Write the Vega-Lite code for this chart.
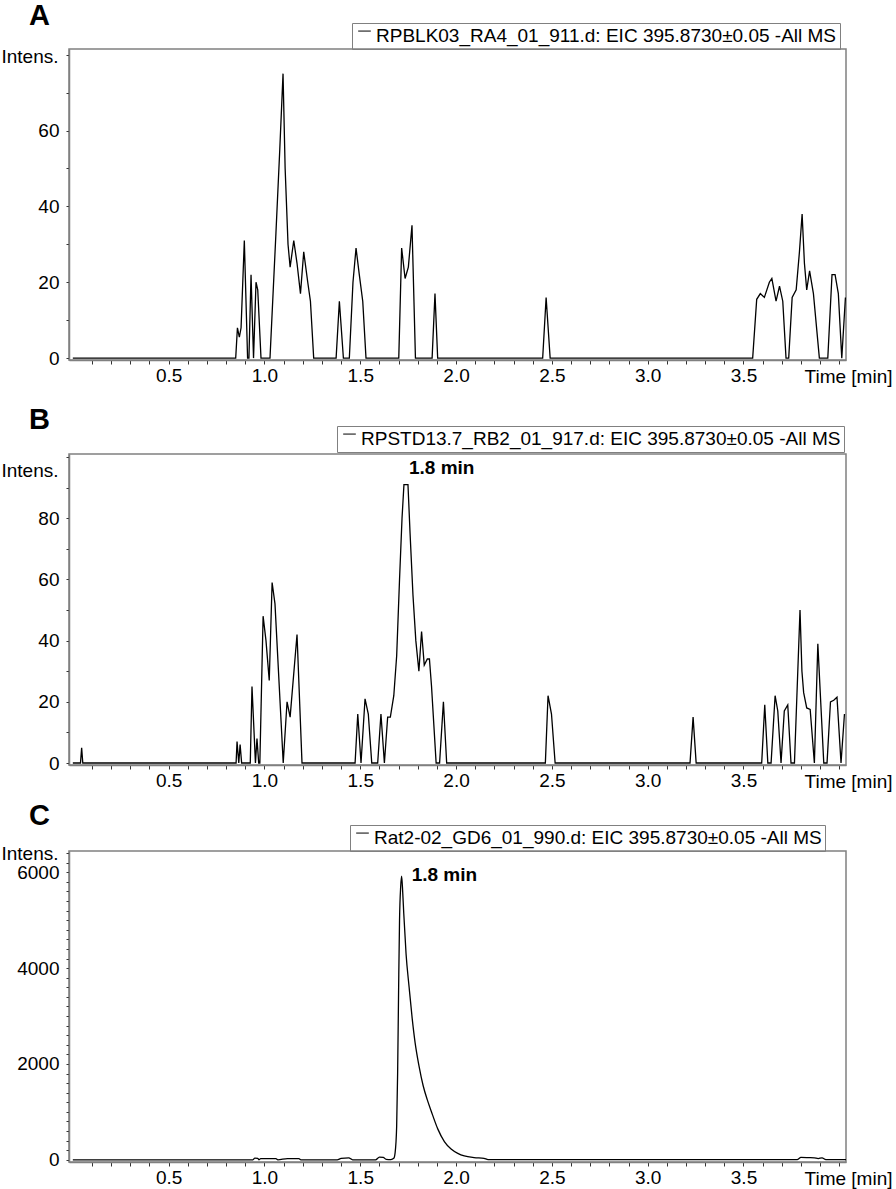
{
  "$schema": "https://vega.github.io/schema/vega-lite/v6.json",
  "padding": {"left": 0, "top": 0, "right": 0, "bottom": 0},
  "config": {
    "font": "Liberation Sans",
    "view": {"stroke": "#808080", "strokeWidth": 1.5},
    "axis": {"domainColor": "#808080", "domainWidth": 1.5, "tickColor": "#333333", "tickWidth": 1, "labelColor": "black", "labelFontSize": 19, "labelFont": "Liberation Sans", "grid": false, "labelOverlap": false, "labelFlush": false, "labelBound": false, "titleFont": "Liberation Sans", "titleFontWeight": "normal", "titleFontSize": 19, "titleColor": "black"},
    "legend": {"labelFont": "Liberation Sans", "labelFontSize": 19, "labelColor": "black", "labelLimit": 0},
    "title": {"font": "Liberation Sans", "fontSize": 29, "fontWeight": "bold", "color": "black"}
  },
  "datasets": {
    "a": [
      {"t":0,"v":0},{"t":0.85,"v":0},{"t":0.859,"v":8},{"t":0.869,"v":5.5},{"t":0.878,"v":8},{"t":0.895,"v":31},{"t":0.912,"v":0},{"t":0.919,"v":0},{"t":0.93,"v":22},{"t":0.943,"v":0},{"t":0.956,"v":20},{"t":0.965,"v":18},{"t":0.982,"v":0},{"t":1.029,"v":0},{"t":1.06,"v":33},{"t":1.08,"v":55},{"t":1.097,"v":75},{"t":1.108,"v":50},{"t":1.123,"v":30},{"t":1.134,"v":24},{"t":1.153,"v":31},{"t":1.17,"v":25},{"t":1.188,"v":17},{"t":1.205,"v":28},{"t":1.226,"v":20},{"t":1.24,"v":15},{"t":1.257,"v":0},{"t":1.374,"v":0},{"t":1.391,"v":15},{"t":1.412,"v":0},{"t":1.443,"v":0},{"t":1.462,"v":20},{"t":1.478,"v":29},{"t":1.495,"v":22},{"t":1.513,"v":15},{"t":1.53,"v":0},{"t":1.701,"v":0},{"t":1.716,"v":29},{"t":1.734,"v":21},{"t":1.751,"v":24},{"t":1.77,"v":35},{"t":1.788,"v":0},{"t":1.875,"v":0},{"t":1.89,"v":17},{"t":1.904,"v":0},{"t":2.452,"v":0},{"t":2.47,"v":16},{"t":2.491,"v":0},{"t":3.548,"v":0},{"t":3.569,"v":15.5},{"t":3.588,"v":17},{"t":3.609,"v":16},{"t":3.635,"v":20},{"t":3.648,"v":21},{"t":3.67,"v":15},{"t":3.688,"v":19},{"t":3.705,"v":15},{"t":3.722,"v":0},{"t":3.736,"v":0},{"t":3.754,"v":16},{"t":3.775,"v":18},{"t":3.792,"v":28},{"t":3.806,"v":38},{"t":3.818,"v":25},{"t":3.83,"v":18},{"t":3.845,"v":23},{"t":3.865,"v":17},{"t":3.896,"v":0},{"t":3.94,"v":0},{"t":3.962,"v":22},{"t":3.978,"v":22},{"t":3.995,"v":17},{"t":4.013,"v":0},{"t":4.032,"v":16}
    ],
    "b": [
      {"t":0,"v":0},{"t":0.04,"v":0},{"t":0.046,"v":5},{"t":0.052,"v":0},{"t":0.852,"v":0},{"t":0.857,"v":7},{"t":0.866,"v":0},{"t":0.873,"v":6},{"t":0.881,"v":0},{"t":0.926,"v":0},{"t":0.935,"v":25},{"t":0.953,"v":0},{"t":0.961,"v":8},{"t":0.97,"v":0},{"t":0.976,"v":0},{"t":0.993,"v":48},{"t":1.008,"v":40},{"t":1.025,"v":27},{"t":1.04,"v":59},{"t":1.055,"v":52},{"t":1.098,"v":0},{"t":1.118,"v":20},{"t":1.134,"v":15},{"t":1.17,"v":42},{"t":1.196,"v":0},{"t":1.473,"v":0},{"t":1.487,"v":16},{"t":1.504,"v":0},{"t":1.525,"v":21},{"t":1.542,"v":16},{"t":1.56,"v":0},{"t":1.591,"v":0},{"t":1.608,"v":16},{"t":1.626,"v":0},{"t":1.643,"v":15},{"t":1.657,"v":15},{"t":1.675,"v":22},{"t":1.69,"v":35},{"t":1.705,"v":60},{"t":1.718,"v":80},{"t":1.728,"v":91},{"t":1.749,"v":91},{"t":1.76,"v":75},{"t":1.775,"v":55},{"t":1.79,"v":40},{"t":1.806,"v":30},{"t":1.82,"v":43},{"t":1.834,"v":32},{"t":1.85,"v":34},{"t":1.861,"v":34},{"t":1.872,"v":25},{"t":1.896,"v":0},{"t":1.914,"v":0},{"t":1.934,"v":20},{"t":1.951,"v":0},{"t":2.466,"v":0},{"t":2.48,"v":22},{"t":2.498,"v":16},{"t":2.517,"v":0},{"t":3.221,"v":0},{"t":3.237,"v":15},{"t":3.253,"v":0},{"t":3.595,"v":0},{"t":3.611,"v":19},{"t":3.627,"v":0},{"t":3.644,"v":0},{"t":3.665,"v":22},{"t":3.679,"v":17},{"t":3.696,"v":0},{"t":3.713,"v":17},{"t":3.731,"v":19},{"t":3.748,"v":0},{"t":3.766,"v":0},{"t":3.795,"v":50},{"t":3.805,"v":30},{"t":3.814,"v":23},{"t":3.83,"v":18},{"t":3.848,"v":17.5},{"t":3.87,"v":0},{"t":3.888,"v":39},{"t":3.903,"v":20},{"t":3.919,"v":0},{"t":3.936,"v":0},{"t":3.954,"v":20},{"t":3.971,"v":20.5},{"t":3.988,"v":21.5},{"t":4.009,"v":0},{"t":4.027,"v":16}
    ],
    "c": [
      {"t":0,"v":0},{"t":0.94,"v":0},{"t":0.95,"v":35},{"t":0.965,"v":30},{"t":0.972,"v":0},{"t":0.98,"v":25},{"t":1.06,"v":25},{"t":1.07,"v":0},{"t":1.12,"v":25},{"t":1.18,"v":25},{"t":1.19,"v":0},{"t":1.38,"v":0},{"t":1.4,"v":30},{"t":1.44,"v":40},{"t":1.46,"v":0},{"t":1.58,"v":0},{"t":1.6,"v":55},{"t":1.62,"v":50},{"t":1.635,"v":10},{"t":1.66,"v":5},{"t":1.675,"v":30},{"t":1.682,"v":150},{"t":1.69,"v":700},{"t":1.695,"v":1800},{"t":1.7,"v":3500},{"t":1.705,"v":5000},{"t":1.711,"v":5700},{"t":1.716,"v":5917},{"t":1.722,"v":5550},{"t":1.727,"v":5146},{"t":1.739,"v":4300},{"t":1.755,"v":3600},{"t":1.771,"v":2950},{"t":1.786,"v":2450},{"t":1.807,"v":1950},{"t":1.828,"v":1550},{"t":1.85,"v":1250},{"t":1.87,"v":1020},{"t":1.905,"v":640},{"t":1.939,"v":380},{"t":1.974,"v":225},{"t":2.009,"v":135},{"t":2.043,"v":80},{"t":2.094,"v":45},{"t":2.146,"v":30},{"t":2.167,"v":5},{"t":3.78,"v":5},{"t":3.8,"v":50},{"t":3.84,"v":45},{"t":3.87,"v":40},{"t":3.89,"v":25},{"t":3.91,"v":40},{"t":3.93,"v":5},{"t":4.035,"v":5}
    ],
    "annB": [{"t":1.749,"v":91,"label":"1.8 min"}],
    "annC": [{"t":1.716,"v":5917,"label":"1.8 min"}]
  },
  "bounds": "flush",
  "spacing": 94,
  "resolve": {"scale": {"x": "independent", "y": "independent", "stroke": "independent"}, "legend": {"stroke": "independent"}},
  "vconcat": [
    {
      "width": 777, "height": 311,
      "title": {"text": "A", "anchor": "start", "frame": "group", "dx": -40, "offset": 0, "dy": 31, "baseline": "alphabetic"},
      "encoding": {
        "x": {"field": "t", "type": "quantitative", "scale": {"domain": [-0.02, 4.035], "nice": false, "zero": false},
          "axis": {"values": [0.1,0.2,0.3,0.4,0.5,0.6,0.7,0.8,0.9,1.0,1.1,1.2,1.3,1.4,1.5,1.6,1.7,1.8,1.9,2.0,2.1,2.2,2.3,2.4,2.5,2.6,2.7,2.8,2.9,3.0,3.1,3.2,3.3,3.4,3.5,3.6,3.7,3.8,3.9,4.0],
            "labelExpr": "abs(datum.value*2 - round(datum.value*2)) < 0.001 && datum.value < 3.9 ? format(datum.value, '.1f') : ''",
            "tickSize": 4, "labelPadding": 2, "title": "Time [min]", "titleX": 779, "titleY": 16, "titleAlign": "center", "titleBaseline": "middle", "titleAnchor": null}},
        "y": {"field": "v", "type": "quantitative", "scale": {"domain": [-0.5, 81.5], "nice": false, "zero": false},
          "axis": {"values": [0,10,20,30,40,50,60,70,80], "labelExpr": "datum.value % 20 === 0 && datum.value < 80 ? datum.label : ''",
            "tickSize": 3, "labelPadding": 7, "title": "Intens.", "titleAngle": 0, "titleAlign": "right", "titleBaseline": "middle", "titleX": -11, "titleY": 7}}
      },
      "layer": [
        {"data": {"name": "a"}, "mark": {"type": "line", "strokeWidth": 1.3, "clip": true},
         "encoding": {"stroke": {"datum": "RPBLK03_RA4_01_911.d: EIC 395.8730±0.05 -All MS", "type": "nominal", "scale": {"range": ["black"]},
           "legend": {"orient": "none", "legendX": 283, "legendY": -26, "title": null, "symbolType": "M-1,-0.7L1,-0.7", "symbolSize": 160, "symbolStrokeWidth": 1, "symbolFillColor": "transparent", "strokeColor": "#808080", "padding": 3, "labelOffset": 2}}}}
      ]
    },
    {
      "bounds": "flush",
      "spacing": 86,
      "resolve": {"scale": {"x": "independent", "y": "independent", "stroke": "independent"}, "legend": {"stroke": "independent"}},
      "vconcat": [
        {
          "width": 777, "height": 311,
          "title": {"text": "B", "anchor": "start", "frame": "group", "dx": -40, "offset": 0, "dy": 32, "baseline": "alphabetic"},
          "encoding": {
            "x": {"field": "t", "type": "quantitative", "scale": {"domain": [-0.02, 4.035], "nice": false, "zero": false},
              "axis": {"values": [0.1,0.2,0.3,0.4,0.5,0.6,0.7,0.8,0.9,1.0,1.1,1.2,1.3,1.4,1.5,1.6,1.7,1.8,1.9,2.0,2.1,2.2,2.3,2.4,2.5,2.6,2.7,2.8,2.9,3.0,3.1,3.2,3.3,3.4,3.5,3.6,3.7,3.8,3.9,4.0],
                "labelExpr": "abs(datum.value*2 - round(datum.value*2)) < 0.001 && datum.value < 3.9 ? format(datum.value, '.1f') : ''",
                "tickSize": 4, "labelPadding": 2, "title": "Time [min]", "titleX": 779, "titleY": 16, "titleAlign": "center", "titleBaseline": "middle", "titleAnchor": null}},
            "y": {"field": "v", "type": "quantitative", "scale": {"domain": [-0.65, 101], "nice": false, "zero": false},
              "axis": {"values": [0,10,20,30,40,50,60,70,80,90,100], "labelExpr": "datum.value % 20 === 0 && datum.value < 90 ? datum.label : ''",
                "tickSize": 3, "labelPadding": 7, "title": "Intens.", "titleAngle": 0, "titleAlign": "right", "titleBaseline": "middle", "titleX": -11, "titleY": 16}}
          },
          "layer": [
            {"data": {"name": "b"}, "mark": {"type": "line", "strokeWidth": 1.3, "clip": true},
             "encoding": {"stroke": {"datum": "RPSTD13.7_RB2_01_917.d: EIC 395.8730±0.05 -All MS", "type": "nominal", "scale": {"range": ["black"]},
               "legend": {"orient": "none", "legendX": 268, "legendY": -28, "title": null, "symbolType": "M-1,-0.7L1,-0.7", "symbolSize": 160, "symbolStrokeWidth": 1, "symbolFillColor": "transparent", "strokeColor": "#808080", "padding": 3, "labelOffset": 2}}}},
            {"data": {"name": "annB"}, "mark": {"type": "text", "align": "left", "baseline": "middle", "dx": 1, "dy": -17, "fontSize": 19, "fontWeight": "bold", "color": "black"},
             "encoding": {"text": {"field": "label"}}}
          ]
        },
        {
          "width": 777, "height": 311,
          "title": {"text": "C", "anchor": "start", "frame": "group", "dx": -40, "offset": 0, "dy": 29, "baseline": "alphabetic"},
          "encoding": {
            "x": {"field": "t", "type": "quantitative", "scale": {"domain": [-0.02, 4.035], "nice": false, "zero": false},
              "axis": {"values": [0.1,0.2,0.3,0.4,0.5,0.6,0.7,0.8,0.9,1.0,1.1,1.2,1.3,1.4,1.5,1.6,1.7,1.8,1.9,2.0,2.1,2.2,2.3,2.4,2.5,2.6,2.7,2.8,2.9,3.0,3.1,3.2,3.3,3.4,3.5,3.6,3.7,3.8,3.9,4.0],
                "labelExpr": "abs(datum.value*2 - round(datum.value*2)) < 0.001 && datum.value < 3.9 ? format(datum.value, '.1f') : ''",
                "tickSize": 4, "labelPadding": 2, "title": "Time [min]", "titleX": 779, "titleY": 16, "titleAlign": "center", "titleBaseline": "middle", "titleAnchor": null}},
            "y": {"field": "v", "type": "quantitative", "scale": {"domain": [-46, 6444], "nice": false, "zero": false},
              "axis": {"values": [0,200,400,600,800,1000,1200,1400,1600,1800,2000,2200,2400,2600,2800,3000,3200,3400,3600,3800,4000,4200,4400,4600,4800,5000,5200,5400,5600,5800,6000,6200,6400],
                "labelExpr": "datum.value % 2000 === 0 ? format(datum.value, 'd') : ''",
                "tickSize": 3, "labelPadding": 7, "title": "Intens.", "titleAngle": 0, "titleAlign": "right", "titleBaseline": "middle", "titleX": -11, "titleY": 2}}
          },
          "layer": [
            {"data": {"name": "c"}, "mark": {"type": "line", "strokeWidth": 1.3, "clip": true, "interpolate": "monotone"},
             "encoding": {"stroke": {"datum": "Rat2-02_GD6_01_990.d: EIC 395.8730±0.05 -All MS", "type": "nominal", "scale": {"range": ["black"]},
               "legend": {"orient": "none", "legendX": 281, "legendY": -26, "title": null, "symbolType": "M-1,-0.7L1,-0.7", "symbolSize": 160, "symbolStrokeWidth": 1, "symbolFillColor": "transparent", "strokeColor": "#808080", "padding": 3, "labelOffset": 2}}}},
            {"data": {"name": "annC"}, "mark": {"type": "text", "align": "left", "baseline": "middle", "dx": 10, "dy": -1, "fontSize": 19, "fontWeight": "bold", "color": "black"},
             "encoding": {"text": {"field": "label"}}}
          ]
        }
      ]
    }
  ]
}
